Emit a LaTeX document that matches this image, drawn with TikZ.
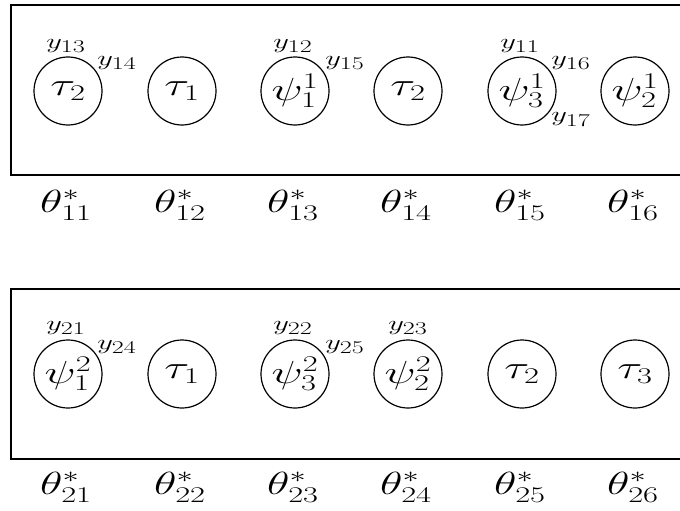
\RequirePackage{fix-cm}
\documentclass[tikz,border=0pt]{standalone}
\newcommand{\hstr}[1]{\scalebox{1.45}[1]{#1}}
\newcommand{\ylab}[1]{\hstr{$y_{\mbox{\fontsize{18}{18}\selectfont #1}}$}}
\newcommand{\tht}[1]{\hstr{$\theta_{#1}^*$}}
\tikzset{
  st/.style={draw, circle, line width=1.2pt, minimum size=68pt, inner sep=0pt,
    font=\fontsize{32}{36}\selectfont},
  th/.style={inner sep=0pt, font=\fontsize{32}{36}\selectfont},
  lab/.style={inner sep=0pt, font=\fontsize{21}{24}\selectfont},
  box/.style={draw, line width=1.8pt}
}
\begin{document}
\begin{tikzpicture}[x=1pt,y=-1pt]
\useasboundingbox (0,0) rectangle (680,511);
\begin{scope}
\clip (0,0) rectangle (680,511);
\draw[box] (11,5) rectangle (700,175);
\draw[box] (11,289) rectangle (700,459);
\end{scope}
% top row
\node[st] (a1) at (68,91) {\hstr{$\tau_2$}};
\node[st] (a2) at (182,91) {\hstr{$\tau_1$}};
\node[st] (a3) at (295,91) {\hstr{$\psi_1^1$}};
\node[st] (a4) at (408,91) {\hstr{$\tau_2$}};
\node[st] (a5) at (522,91) {\hstr{$\psi_3^1$}};
\node[st] (a6) at (635,91) {\hstr{$\psi_2^1$}};
\node[th] (t11) at (66,205) {\tht{11}};
\node[th] (t12) at (180,205) {\tht{12}};
\node[th] (t13) at (293,205) {\tht{13}};
\node[th] (t14) at (406,205) {\tht{14}};
\node[th] (t15) at (520,205) {\tht{15}};
\node[th] (t16) at (633,205) {\tht{16}};
\node[lab] (y13) at (66,46) {\ylab{13}};
\node[lab] (y14) at (117,63) {\ylab{14}};
\node[lab] (y12) at (293,46) {\ylab{12}};
\node[lab] (y15) at (345,63) {\ylab{15}};
\node[lab] (y11) at (520,46) {\ylab{11}};
\node[lab] (y16) at (571,63) {\ylab{16}};
\node[lab] (y17) at (571,120) {\ylab{17}};
% bottom row
\node[st] (b1) at (68,374) {\hstr{$\psi_1^2$}};
\node[st] (b2) at (182,374) {\hstr{$\tau_1$}};
\node[st] (b3) at (295,374) {\hstr{$\psi_3^2$}};
\node[st] (b4) at (408,374) {\hstr{$\psi_2^2$}};
\node[st] (b5) at (522,374) {\hstr{$\tau_2$}};
\node[st] (b6) at (635,374) {\hstr{$\tau_3$}};
\node[th] (t21) at (66,487) {\tht{21}};
\node[th] (t22) at (180,487) {\tht{22}};
\node[th] (t23) at (293,487) {\tht{23}};
\node[th] (t24) at (406,487) {\tht{24}};
\node[th] (t25) at (520,487) {\tht{25}};
\node[th] (t26) at (633,487) {\tht{26}};
\node[lab] (y21) at (66,328) {\ylab{21}};
\node[lab] (y24) at (117,347) {\ylab{24}};
\node[lab] (y22) at (293,328) {\ylab{22}};
\node[lab] (y25) at (345,347) {\ylab{25}};
\node[lab] (y23) at (408,328) {\ylab{23}};
\end{tikzpicture}
\end{document}
